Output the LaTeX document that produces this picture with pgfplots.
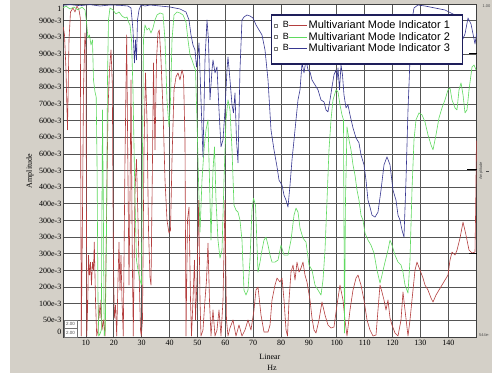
\documentclass[border=0pt]{standalone}
\usepackage{fontspec}
\setmainfont{Liberation Serif}
\newfontfamily\legendfont{Liberation Sans}
\usepackage{pgfplots}
\pgfplotsset{compat=1.18}
\definecolor{bg}{RGB}{212,208,200}
\definecolor{mmi1}{RGB}{180,62,62}
\definecolor{mmi2}{RGB}{95,218,95}
\definecolor{mmi3}{RGB}{55,55,145}
\definecolor{navy}{RGB}{30,30,90}
\definecolor{gridc}{RGB}{85,85,85}
\newcommand{\tickfont}{\fontsize{8}{9}\selectfont}
\newcommand{\lgfont}{\legendfont\fontsize{11}{12}\selectfont}
\begin{document}
\begin{tikzpicture}
\fill[bg] (10pt,2pt) rectangle (492pt,375pt);
\begin{axis}[
 scale only axis, width=413.7pt, height=333pt,
 at={(63pt,38pt)}, anchor=south west,
 xmin=1.76, xmax=150.2, ymin=0, ymax=1,
 axis background/.style={fill=white},
 axis line style={draw=black!75, line width=0.8pt},
 grid=major, major grid style={draw=gridc, line width=0.7pt},
 major tick length=0pt,
 xtick={10,20,30,40,50,60,70,80,90,100,110,120,130,140},
 xticklabels={10,20,30,40,50,60,70,80,90,100,110,120,130,140},
 ytick={0,0.05,0.1,0.15,0.2,0.25,0.3,0.35,0.4,0.45,0.5,0.55,0.6,0.65,0.7,0.75,0.8,0.85,0.9,0.95,1},
 yticklabels={{},50e-3,100e-3,200e-3,200e-3,300e-3,300e-3,300e-3,400e-3,400e-3,500e-3,600e-3,600e-3,600e-3,700e-3,800e-3,800e-3,900e-3,900e-3,900e-3,{}},
 ticklabel style={font=\tickfont},
 yticklabel style={inner sep=0pt, xshift=-1.5pt},
 xticklabel style={inner sep=0pt, yshift=-3pt},
 legend style={draw=none, fill=none, at={(0.5088,0.953)}, anchor=north west,
   font=\lgfont, inner xsep=0pt, inner ysep=0pt, row sep=0pt,
   nodes={inner sep=1pt}, cells={anchor=west}},
 legend cell align=left,
 legend image code/.code={
   \draw[draw=black!55, line width=0.4pt, fill=white] (0pt,-1.6pt) rectangle (3.2pt,1.6pt);
   \node[inner sep=0pt, text=black, font=\legendfont\fontsize{9}{10}\selectfont] at (8.7pt,0pt) {B};
   \draw[#1] (15pt,0pt) -- (33.5pt,0pt);
 },
]
\addplot[mmi1, line width=0.6pt, no markers, line join=round] coordinates {
(1.87,0.931)(2.30,0.907)(2.83,0.802)(3.37,0.622)(3.91,0.892)(4.45,0.976)(5.35,0.988)(6.06,0.976)(6.78,0.994)(7.50,0.982)(7.97,0.958)(8.32,0.003)(8.68,0.291)(9.11,0.742)(9.65,0.913)(10.01,0.862)(10.30,0.003)(10.66,0.111)(10.91,0.246)(11.27,0.186)(11.63,0.225)(11.98,0.156)(12.34,0.225)(12.70,0.201)(12.99,0.285)(13.42,0.111)(13.85,0.003)(14.32,0.021)(14.68,0.096)(15.03,0.057)(15.39,0.111)(15.75,0.021)(16.29,0.051)(16.83,0.003)(17.37,0.351)(17.90,0.682)(18.44,0.802)(18.98,0.862)(19.45,0.763)(19.81,0.261)(20.16,0.057)(20.60,0.096)(21.03,0.003)(21.49,0.171)(21.85,0.285)(22.21,0.141)(22.57,0.246)(22.93,0.111)(23.39,0.003)(24.00,0.532)(24.61,0.907)(25.08,0.471)(25.44,0.156)(25.80,0.421)(26.16,0.772)(26.62,0.241)(26.98,0.003)(27.59,0.441)(28.13,0.533)(28.67,0.351)(29.21,0.141)(29.57,0.021)(29.85,0.003)(30.28,0.051)(30.82,0.562)(31.36,0.793)(31.90,0.652)(32.44,0.321)(32.97,0.180)(33.33,0.156)(33.87,0.532)(34.23,0.823)(34.77,0.562)(35.31,0.832)(35.84,0.913)(36.31,0.922)(36.92,0.832)(37.64,0.682)(38.36,0.471)(39.07,0.351)(39.79,0.312)(40.33,0.321)(40.87,0.532)(41.59,0.742)(42.30,0.781)(43.02,0.793)(43.74,0.772)(44.46,0.802)(45.00,0.784)(45.53,0.592)(45.89,0.003)(46.43,0.351)(46.97,0.390)(47.51,0.111)(47.87,0.003)(48.40,0.111)(48.94,0.231)(49.30,0.051)(49.84,0.171)(50.45,0.411)(50.92,0.111)(51.27,0.003)(51.99,0.021)(52.71,0.111)(53.25,0.171)(53.79,0.282)(54.32,0.111)(54.86,0.003)(55.58,0.081)(56.30,0.003)(57.01,0.021)(57.73,0.081)(58.45,0.003)(59.17,0.111)(59.89,0.411)(60.42,0.051)(60.96,0.003)(61.68,0.027)(62.75,0.051)(63.83,0.003)(64.91,0.036)(65.98,0.003)(67.06,0.021)(68.14,0.051)(69.21,0.021)(70.29,0.081)(70.99,0.141)(71.73,0.150)(72.80,0.066)(73.88,0.015)(75.32,0.015)(76.04,0.036)(76.75,0.111)(77.83,0.156)(78.55,0.177)(79.62,0.165)(80.34,0.177)(81.06,0.111)(81.78,0.021)(82.32,0.003)(82.86,0.111)(83.57,0.195)(84.29,0.216)(85.01,0.171)(85.72,0.225)(86.44,0.195)(87.16,0.207)(87.87,0.225)(88.59,0.186)(89.31,0.165)(90.39,0.111)(91.10,0.057)(91.82,0.021)(92.54,0.012)(93.61,0.051)(94.69,0.105)(95.77,0.066)(96.84,0.036)(97.92,0.027)(98.99,0.030)(100.07,0.096)(101.15,0.156)(102.22,0.111)(102.94,0.051)(103.66,0.003)(104.74,0.081)(105.81,0.141)(106.89,0.177)(107.61,0.186)(108.68,0.156)(109.76,0.111)(110.84,0.051)(111.91,0.021)(112.99,0.003)(114.07,0.006)(114.78,0.081)(115.50,0.156)(116.22,0.135)(116.94,0.111)(117.65,0.081)(118.37,0.111)(119.09,0.057)(119.81,0.036)(120.88,0.012)(121.96,0.003)(123.04,0.051)(123.75,0.135)(124.47,0.081)(125.55,0.003)(126.26,0.051)(127.34,0.141)(128.06,0.201)(128.78,0.225)(129.85,0.201)(130.93,0.177)(131.65,0.156)(132.72,0.141)(133.80,0.117)(134.52,0.105)(135.59,0.126)(136.67,0.141)(137.75,0.156)(138.82,0.171)(139.90,0.186)(140.62,0.231)(141.34,0.255)(142.42,0.246)(143.13,0.261)(144.21,0.297)(145.29,0.345)(146.36,0.306)(147.44,0.261)(148.52,0.252)(149.59,0.255)(149.85,0.40)(150.1,0.59)
};
\addlegendentry{Multivariant Mode Indicator 1}
\addplot[mmi2, line width=0.6pt, no markers, line join=round] coordinates {
(1.76,0.988)(2.83,0.994)(4.27,0.985)(5.71,0.991)(7.14,0.982)(8.58,0.991)(9.65,0.982)(10.19,0.946)(10.73,0.898)(11.27,0.907)(11.80,0.877)(12.34,0.892)(12.70,0.772)(13.24,0.736)(13.67,0.721)(13.96,0.532)(14.32,0.111)(14.60,0.003)(15.03,0.009)(15.50,0.021)(15.93,0.682)(16.22,0.411)(16.54,0.003)(16.94,0.021)(17.37,0.321)(17.72,0.772)(18.08,0.952)(18.62,0.988)(19.70,0.982)(20.77,0.970)(21.85,0.976)(22.93,0.964)(24.00,0.958)(24.72,0.961)(25.26,0.946)(25.80,0.937)(26.34,0.892)(26.87,0.742)(27.59,0.411)(28.13,0.231)(28.67,0.201)(29.39,0.171)(29.92,0.156)(30.28,0.562)(30.64,0.892)(31.18,0.937)(31.90,0.922)(32.61,0.928)(33.33,0.913)(34.05,0.928)(34.77,0.952)(35.48,0.967)(36.56,0.973)(37.64,0.970)(38.36,0.892)(39.07,0.712)(39.79,0.631)(40.33,0.712)(40.87,0.892)(41.59,0.967)(42.66,0.976)(43.74,0.973)(44.82,0.967)(45.89,0.946)(46.61,0.892)(47.33,0.847)(48.04,0.832)(48.76,0.814)(49.30,0.802)(49.84,0.652)(50.38,0.471)(50.92,0.315)(51.63,0.471)(52.35,0.562)(53.07,0.622)(53.79,0.652)(54.32,0.471)(54.86,0.291)(55.58,0.502)(56.12,0.571)(56.66,0.411)(57.37,0.291)(58.09,0.237)(58.81,0.261)(59.53,0.471)(60.24,0.652)(60.96,0.712)(61.68,0.682)(62.40,0.562)(63.11,0.396)(63.83,0.381)(64.55,0.375)(65.26,0.351)(65.98,0.291)(66.70,0.141)(67.42,0.126)(68.14,0.141)(68.85,0.231)(69.57,0.381)(70.11,0.417)(70.83,0.396)(71.73,0.195)(72.45,0.225)(73.16,0.261)(73.88,0.291)(74.60,0.300)(75.32,0.276)(76.04,0.246)(76.75,0.225)(77.83,0.225)(78.91,0.231)(79.98,0.276)(81.06,0.246)(82.49,0.246)(83.57,0.291)(84.65,0.366)(85.36,0.387)(86.08,0.375)(86.80,0.327)(87.87,0.297)(88.95,0.285)(90.03,0.216)(91.10,0.201)(92.18,0.156)(93.26,0.141)(94.33,0.126)(95.05,0.171)(95.77,0.261)(96.49,0.411)(97.20,0.562)(97.92,0.652)(98.64,0.712)(99.71,0.742)(100.43,0.736)(101.15,0.697)(101.87,0.667)(102.40,0.652)(102.76,0.012)(103.12,0.411)(103.66,0.631)(104.38,0.592)(105.09,0.562)(105.81,0.517)(106.53,0.486)(107.25,0.441)(107.96,0.411)(108.68,0.366)(109.40,0.351)(110.12,0.312)(111.19,0.291)(112.27,0.276)(113.35,0.252)(114.42,0.201)(115.50,0.162)(116.22,0.186)(117.29,0.225)(118.37,0.261)(119.09,0.291)(119.81,0.276)(120.88,0.246)(121.96,0.225)(123.04,0.216)(123.75,0.195)(124.47,0.156)(125.55,0.132)(126.26,0.231)(126.98,0.441)(127.70,0.592)(128.42,0.652)(129.49,0.673)(130.57,0.667)(131.65,0.646)(132.72,0.607)(133.80,0.577)(134.52,0.562)(135.59,0.607)(136.67,0.658)(137.75,0.688)(138.82,0.712)(139.90,0.742)(140.62,0.748)(141.34,0.712)(142.42,0.688)(143.13,0.682)(143.85,0.742)(144.57,0.763)(145.29,0.727)(146.00,0.673)(146.72,0.682)(147.44,0.742)(148.52,0.811)(149.23,0.817)(149.95,0.802)
};
\addlegendentry{Multivariant Mode Indicator 2}
\addplot[mmi3, line width=0.6pt, no markers, line join=round] coordinates {
(1.76,0.996)(4.27,0.998)(7.86,0.995)(11.45,0.998)(15.03,0.994)(18.62,0.997)(22.21,0.996)(25.08,0.994)(26.16,0.988)(26.87,0.922)(27.41,0.823)(27.77,0.892)(28.13,0.832)(28.49,0.952)(29.03,0.982)(29.75,0.997)(31.18,0.994)(32.97,0.997)(36.56,0.994)(40.15,0.991)(43.74,0.985)(45.89,0.976)(46.97,0.952)(47.69,0.907)(48.40,0.877)(49.12,0.862)(49.66,0.811)(50.20,0.847)(50.56,0.883)(51.27,0.712)(51.99,0.541)(52.71,0.832)(53.43,0.952)(53.96,0.892)(54.50,0.712)(55.22,0.802)(55.58,0.832)(56.30,0.793)(57.01,0.811)(57.73,0.682)(58.45,0.571)(59.17,0.592)(59.89,0.682)(60.60,0.802)(60.96,0.841)(61.68,0.772)(62.40,0.697)(62.93,0.673)(63.47,0.733)(64.01,0.592)(64.55,0.523)(65.26,0.802)(65.98,0.952)(66.70,0.961)(67.78,0.967)(68.85,0.964)(69.93,0.958)(71.01,0.937)(72.09,0.922)(73.16,0.907)(74.24,0.862)(75.32,0.772)(76.39,0.622)(77.47,0.562)(78.55,0.511)(79.27,0.471)(80.34,0.456)(81.06,0.426)(81.78,0.411)(82.49,0.390)(83.21,0.456)(83.93,0.532)(84.65,0.592)(85.36,0.652)(86.08,0.712)(86.80,0.742)(87.52,0.823)(88.23,0.793)(88.95,0.832)(89.67,0.802)(90.39,0.796)(91.10,0.772)(92.18,0.757)(93.26,0.742)(94.33,0.712)(95.41,0.706)(96.13,0.682)(96.84,0.676)(97.56,0.712)(98.28,0.751)(98.99,0.787)(99.71,0.802)(100.07,0.772)(100.43,0.808)(100.97,0.742)(101.51,0.817)(102.04,0.787)(102.58,0.727)(103.30,0.688)(104.02,0.697)(104.74,0.667)(105.81,0.628)(106.89,0.598)(107.96,0.583)(108.68,0.547)(109.76,0.517)(110.48,0.471)(111.19,0.411)(111.91,0.390)(112.63,0.366)(113.71,0.360)(114.78,0.375)(115.86,0.441)(116.94,0.517)(118.01,0.541)(119.09,0.517)(120.17,0.441)(121.24,0.411)(121.96,0.366)(122.68,0.351)(123.40,0.321)(124.11,0.300)(124.83,0.471)(125.55,0.682)(126.26,0.832)(126.98,0.952)(127.70,0.988)(129.13,0.997)(131.65,0.994)(135.23,0.988)(138.82,0.982)(142.42,0.967)(144.93,0.889)(146.00,0.910)(147.08,0.958)(148.16,0.940)(149.59,0.880)(150.2,0.913)
};
\addlegendentry{Multivariant Mode Indicator 3}
\draw[navy, line width=1.3pt, fill=white] (rel axis cs:0.5045,0.8198) rectangle (rel axis cs:0.9652,0.967);
\end{axis}
% labels outside the axis box
\node[anchor=east, inner sep=0pt, font=\tickfont] at (61.5pt,366.3pt) {1};
\node[anchor=east, inner sep=0pt, font=\tickfont] at (61.5pt,43.3pt) {0};
\node[rotate=90, inner sep=0pt, font=\tickfont] at (30pt,204pt) {Amplitude};
\node[inner sep=0pt, font=\tickfont] at (269.85pt,18.3pt) {Linear};
\node[inner sep=0pt, font=\tickfont] at (272pt,6.7pt) {Hz};
% small boxes bottom-left
\draw[black!55, line width=0.4pt, fill=white] (64pt,46.5pt) rectangle (77pt,55pt);
\draw[black!55, line width=0.4pt, fill=white] (64pt,38pt) rectangle (77pt,46.5pt);
\node[inner sep=0pt, font=\legendfont\fontsize{4.5}{5}\selectfont, text=black!70] at (70.5pt,50.75pt) {2.00};
\node[inner sep=0pt, font=\legendfont\fontsize{4.5}{5}\selectfont, text=black!70] at (70.5pt,42.25pt) {2.00};
% right strip
\node[inner sep=0pt, font=\legendfont\fontsize{4}{5}\selectfont, text=black!70] at (486.5pt,369pt) {1.00};
\node[rotate=90, inner sep=0pt, font=\legendfont\fontsize{4}{5}\selectfont, text=black!70] at (481pt,204pt) {Amplitude};
\draw[black!70, line width=0.5pt] (486pt,204pt) -- (489pt,204pt);
\node[anchor=west, inner sep=0pt, font=\legendfont\fontsize{4}{5}\selectfont, text=black!70] at (479pt,40pt) {544e-};
% cursor markers
\draw[black, line width=1pt] (469pt,321.7pt) -- (476.7pt,321.7pt);
\draw[black, line width=1pt] (467pt,205pt) -- (476.7pt,205pt);
\draw[black, line width=1pt] (469pt,121.7pt) -- (476.7pt,121.7pt);
\pgfresetboundingbox
\useasboundingbox (0pt,0pt) rectangle (492pt,375pt);
\end{tikzpicture}
\end{document}
